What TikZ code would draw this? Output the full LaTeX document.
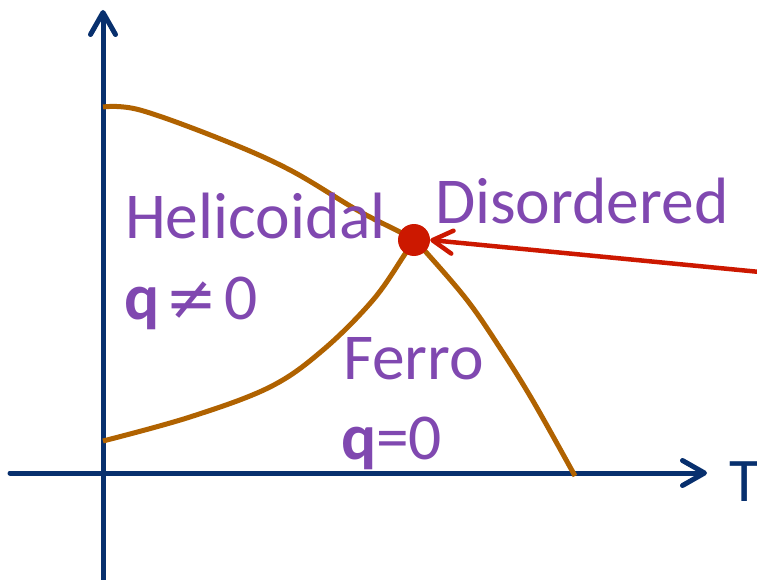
\documentclass[tikz,border=0pt]{standalone}
\usepackage{fontspec}
\setmainfont{Carlito}
\newfontfamily\symfont{DejaVu Sans}
\usetikzlibrary{arrows.meta}
\definecolor{axisblue}{RGB}{8,48,110}
\definecolor{lblpurple}{RGB}{128,72,176}
\definecolor{curvebrown}{RGB}{176,98,0}
\definecolor{dotred}{RGB}{204,24,0}
\tikzset{
  axis/.style={line width=5pt, color=axisblue, line cap=round,
    -{Straight Barb[length=22pt,width=25pt,line width=5pt,round]}},
  phase/.style={line width=5pt, color=curvebrown, line cap=butt},
  lbl/.style={anchor=base west, inner sep=0pt, outer sep=0pt, text=lblpurple, font=\fontsize{65.5}{66}\selectfont},
  dotnode/.style={circle, fill=dotred, minimum size=32pt, inner sep=0pt},
  pointer/.style={line width=4.5pt, color=dotred,
    -{Straight Barb[length=20pt,width=23pt,line width=4.5pt,round]}}
}
\begin{document}
\begin{tikzpicture}[x=1pt,y=-1pt]
\useasboundingbox (0,0) rectangle (757,580);
% axes
\coordinate (ybot) at (103,582);
\coordinate (ytop) at (103,10);
\coordinate (xleft) at (10,473);
\coordinate (xright) at (707,473);
\draw[axis] (ybot) -- (ytop);
\draw[axis] (xleft) -- (xright);
\node[anchor=base west, inner sep=0pt, text=axisblue, font=\fontsize{62}{62}\selectfont] (tlabel) at (729,501) {T};
% phase boundaries
\draw[phase] plot[smooth, tension=0.6] coordinates {(103,107) (140,110) (223,140) (290,170) (357,210) (400,232) (414,240) (425,251) (467,300) (500,348) (533,401) (575,476)};
\draw[phase] plot[smooth, tension=0.6] coordinates {(103,441) (190,417) (270,387) (323,350) (373,300) (405,254) (414,240)};
% critical point
\node[dotnode] (cp) at (414,240) {};
% pointer
\coordinate (pstart) at (760,272);
\draw[pointer] (pstart) -- (cp.east);
% labels
\node[lbl] (heli) at (125,238) {Helicoidal};
\node[lbl] (qne) at (124,319) {\textbf{q}\kern6pt{\symfont\fontsize{62}{62}\selectfont ≠}\kern7pt0};
\node[lbl] (dis) at (435,223) {Disordered};
\node[lbl] (ferro) at (343,379) {Ferro};
\node[lbl] (qeq) at (341,459) {\textbf{q}=0};
\end{tikzpicture}
\end{document}
